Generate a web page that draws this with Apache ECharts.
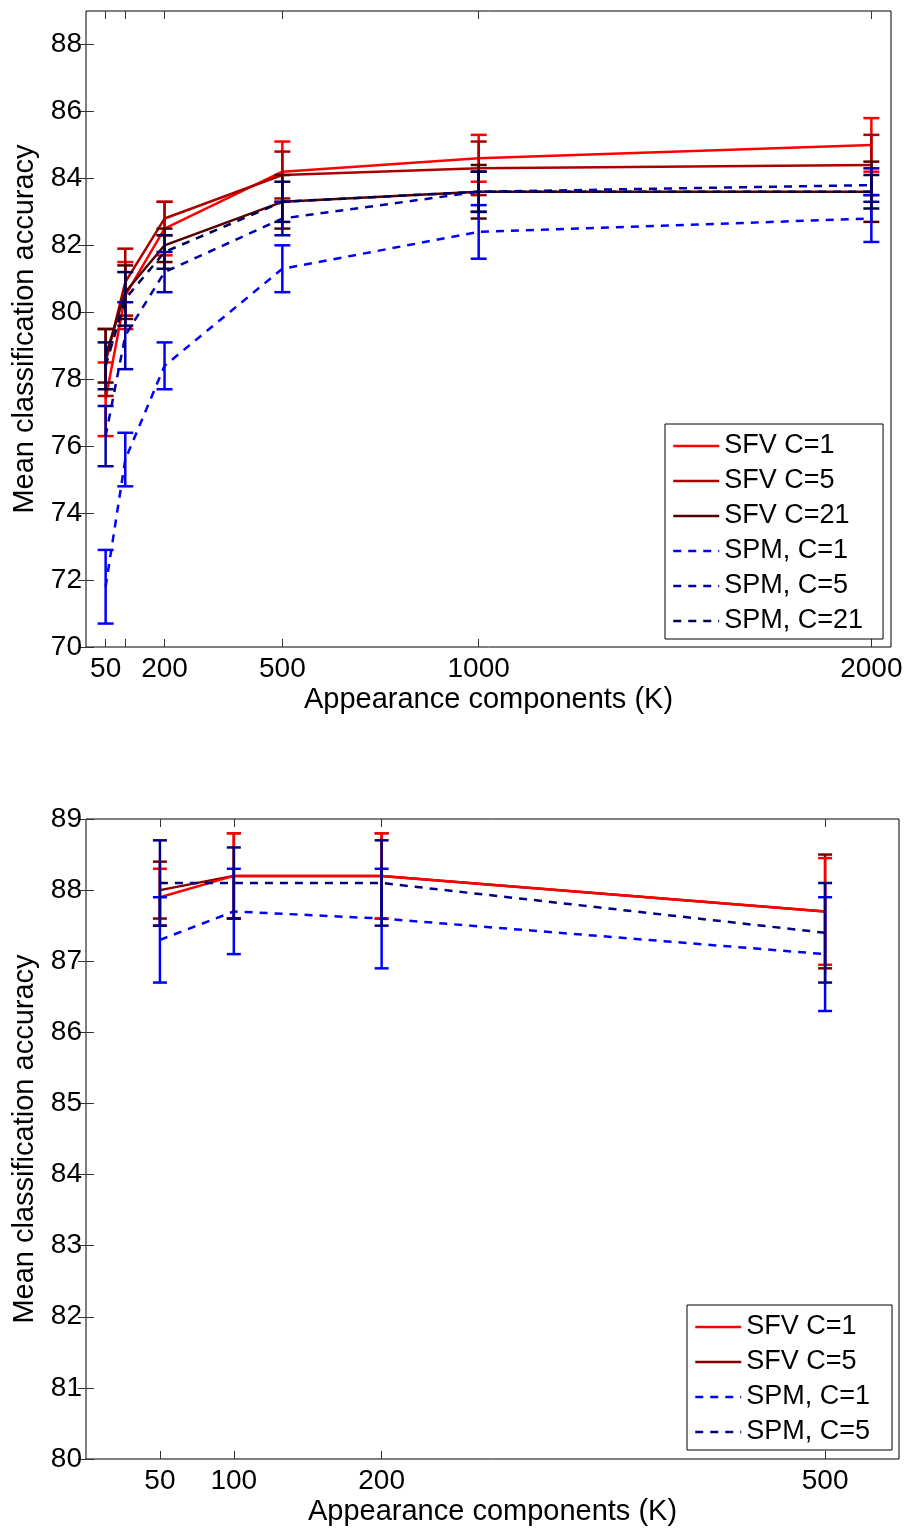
<!DOCTYPE html>
<html>
<head>
<meta charset="utf-8">
<script src="https://cdn.jsdelivr.net/npm/echarts@6/dist/echarts.min.js"></script>
<style>
html,body{margin:0;padding:0;background:#fff;}
#chart{width:906px;height:1528px;}
</style>
</head>
<body>
<div id="chart"></div>
<script>
// ---------- data ----------
const topX = [50, 100, 200, 500, 1000, 2000];
const topTickValues = [50, 100, 200, 500, 1000, 2000];
const topTickLabels = [50, 200, 500, 1000, 2000];
const topYTicks = [70, 72, 74, 76, 78, 80, 82, 84, 86, 88];

const sfv1TopMean = [77.4, 80.5, 82.5, 84.2, 84.6, 85.0];
const sfv1TopErr  = [1.1, 1.0, 0.8, 0.9, 0.7, 0.8];
const sfv5TopMean = [78.5, 80.9, 82.8, 84.1, 84.3, 84.4];
const sfv5TopErr  = [1.0, 1.0, 0.5, 0.7, 0.8, 0.9];
const sfv21TopMean = [78.7, 80.6, 82.0, 83.3, 83.6, 83.6];
const sfv21TopErr  = [0.8, 0.8, 0.5, 0.8, 0.8, 0.9];
const spm1TopMean = [71.8, 75.6, 78.4, 81.3, 82.4, 82.8];
const spm1TopErr  = [1.1, 0.8, 0.7, 0.7, 0.8, 0.7];
const spm5TopMean = [76.3, 79.3, 81.2, 82.8, 83.6, 83.8];
const spm5TopErr  = [0.9, 1.0, 0.6, 0.5, 0.6, 0.5];
const spm21TopMean = [78.4, 80.4, 81.8, 83.3, 83.6, 83.6];
const spm21TopErr  = [0.7, 0.8, 0.5, 0.6, 0.6, 0.5];

const botX = [50, 100, 200, 500];
const botTickValues = [50, 100, 200, 500];
const botYTicks = [80, 81, 82, 83, 84, 85, 86, 87, 88, 89];

const sfv1BotMean = [87.9, 88.2, 88.2, 87.7];
const sfv1BotErr  = [0.4, 0.6, 0.6, 0.75];
const sfv5BotMean = [88.0, 88.2, 88.2, 87.7];
const sfv5BotErr  = [0.4, 0.6, 0.6, 0.8];
const spm1BotMean = [87.3, 87.7, 87.6, 87.1];
const spm1BotErr  = [0.6, 0.6, 0.7, 0.8];
const spm5BotMean = [88.1, 88.1, 88.1, 87.4];
const spm5BotErr  = [0.6, 0.5, 0.6, 0.7];

const xTitle = 'Appearance components (K)';
const yTitle = 'Mean classification accuracy';

// ---------- styling ----------
const FONT = 'Liberation Sans, Arial, sans-serif';
const TICK_FS = 28;
const NAME_FS = 29;
const LEG_FS = 27;
const LW = 2.5;
const DASH = [8, 7];

const chart = echarts.init(document.getElementById('chart'), null, {renderer: 'canvas'});

function errSeries(name, xs, mean, err, color, xi, yi, capHalf, z) {
  return {
    type: 'custom', name: name + ' err', xAxisIndex: xi, yAxisIndex: yi,
    silent: true, z: z,
    encode: {x: 0, y: [1, 2]},
    data: xs.map((x, i) => [x, mean[i] - err[i], mean[i] + err[i]]),
    renderItem: function (params, api) {
      const lo = api.coord([api.value(0), api.value(1)]);
      const hi = api.coord([api.value(0), api.value(2)]);
      const st = {stroke: color, lineWidth: LW};
      return {type: 'group', children: [
        {type: 'line', shape: {x1: lo[0], y1: lo[1], x2: hi[0], y2: hi[1]}, style: st},
        {type: 'line', shape: {x1: lo[0] - capHalf, y1: lo[1], x2: lo[0] + capHalf, y2: lo[1]}, style: st},
        {type: 'line', shape: {x1: hi[0] - capHalf, y1: hi[1], x2: hi[0] + capHalf, y2: hi[1]}, style: st}
      ]};
    }
  };
}
function lineSeries(name, xs, mean, color, dashed, xi, yi, z) {
  return {
    type: 'line', name: name, xAxisIndex: xi, yAxisIndex: yi, z: z,
    symbol: 'none', showSymbol: false, silent: true, animation: false,
    data: xs.map((x, i) => [x, mean[i]]),
    lineStyle: {color: color, width: LW, type: dashed ? DASH : 'solid'},
    itemStyle: {color: color}
  };
}

// [name, mean, err, color, dashed, drawOrder]
const topDefs = [
  ['SFV C=1', sfv1TopMean, sfv1TopErr, '#ff0000', false, 1],
  ['SFV C=5', sfv5TopMean, sfv5TopErr, '#aa0000', false, 2],
  ['SFV C=21', sfv21TopMean, sfv21TopErr, '#550000', false, 3],
  ['SPM, C=1', spm1TopMean, spm1TopErr, '#0000ff', true, 4],
  ['SPM, C=5', spm5TopMean, spm5TopErr, '#0000aa', true, 5],
  ['SPM, C=21', spm21TopMean, spm21TopErr, '#000055', true, 6]
];
const botDefs = [
  ['SFV C=1', sfv1BotMean, sfv1BotErr, '#ff0000', false, 2],
  ['SFV C=5', sfv5BotMean, sfv5BotErr, '#800000', false, 1],
  ['SPM, C=1', spm1BotMean, spm1BotErr, '#0000ff', true, 3],
  ['SPM, C=5', spm5BotMean, spm5BotErr, '#000080', true, 4]
];

const series = [];
topDefs.forEach(d => {
  series.push(lineSeries(d[0], topX, d[1], d[3], d[4], 0, 0, 2 + d[5]));
  series.push(errSeries(d[0], topX, d[1], d[2], d[3], 0, 0, 8, 2 + d[5]));
});
botDefs.forEach(d => {
  series.push(lineSeries(d[0], botX, d[1], d[3], d[4], 2, 2, 2 + d[5]));
  series.push(errSeries(d[0], botX, d[1], d[2], d[3], 2, 2, 7, 2 + d[5]));
});

const tickStyle = {inside: true, length: 8, lineStyle: {color: '#333', width: 1}};
const labelStyle = {color: '#000', fontSize: TICK_FS, fontFamily: FONT, formatter: v => String(v)};

function xAxes(grid, min, max, ticks, labels) {
  return [
    {type: 'value', gridIndex: grid, min: min, max: max, position: 'bottom',
     axisLine: {show: false}, splitLine: {show: false},
     axisTick: Object.assign({customValues: ticks}, tickStyle),
     axisLabel: Object.assign({customValues: labels, margin: 8}, labelStyle),
     name: xTitle, nameLocation: 'middle', nameGap: 38,
     nameTextStyle: {color: '#000', fontSize: NAME_FS, fontFamily: FONT}},
    {type: 'value', gridIndex: grid, min: min, max: max, position: 'top',
     axisLine: {show: false}, splitLine: {show: false},
     axisTick: Object.assign({customValues: ticks}, tickStyle),
     axisLabel: {show: false}}
  ];
}
function yAxes(grid, min, max, ticks) {
  return [
    {type: 'value', gridIndex: grid, min: min, max: max, position: 'left',
     axisLine: {show: false}, splitLine: {show: false},
     axisTick: Object.assign({customValues: ticks}, tickStyle),
     axisLabel: Object.assign({customValues: ticks, margin: 4}, labelStyle),
     name: yTitle, nameLocation: 'middle', nameGap: 45, nameRotate: 90,
     nameTextStyle: {color: '#000', fontSize: NAME_FS, fontFamily: FONT}},
    {type: 'value', gridIndex: grid, min: min, max: max, position: 'right',
     axisLine: {show: false}, splitLine: {show: false},
     axisTick: Object.assign({customValues: ticks}, tickStyle),
     axisLabel: {show: false}}
  ];
}

function legendFor(defs, left, top, padRight) {
  return {
    orient: 'vertical', left: left, top: top,
    backgroundColor: '#fff', borderColor: '#000', borderWidth: 1,
    padding: [7, padRight, 3, 7], itemGap: 5, itemWidth: 46, itemHeight: 20,
    itemTextGap: 6,
    selectedMode: false,
    textStyle: {color: '#000', fontSize: LEG_FS, fontFamily: FONT, lineHeight: 30},
    data: defs.map(d => ({
      name: d[0],
      lineStyle: {color: d[3], width: LW, type: d[4] ? DASH : 'solid'},
      itemStyle: {color: 'rgba(0,0,0,0)', borderWidth: 0, opacity: 0}
    }))
  };
}

const option = {
  animation: false,
  backgroundColor: '#fff',
  grid: [
    {left: 86, top: 11, width: 805, height: 636, show: true, borderColor: '#000', borderWidth: 1, backgroundColor: '#fff'},
    {left: 86, top: 819, width: 813, height: 640, show: true, borderColor: '#000', borderWidth: 1, backgroundColor: '#fff'}
  ],
  xAxis: [].concat(xAxes(0, 0, 2050, topTickValues, topTickLabels), xAxes(1, 0, 550, botTickValues, botTickValues)),
  yAxis: [].concat(yAxes(0, 70, 89, topYTicks), yAxes(1, 80, 89, botYTicks)),
  legend: [legendFor(topDefs, 665, 424, 20), legendFor(botDefs, 687, 1305, 22)],
  series: series
};
chart.setOption(option);
</script>
</body>
</html>
